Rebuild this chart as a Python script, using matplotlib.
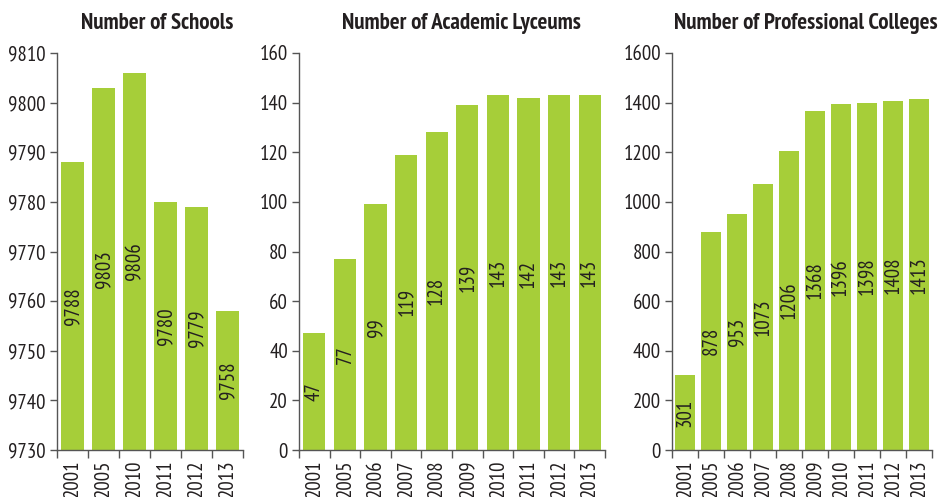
import numpy as np
import matplotlib
matplotlib.use('Agg')
import matplotlib.pyplot as plt

plt.rcParams['font.family'] = ['PT Sans Narrow', 'DejaVu Sans']

green = '#a6ce39'
ink = '#231f20'

school_years = ['2001', '2005', '2010', '2011', '2012', '2013']
schools = [9788, 9803, 9806, 9780, 9779, 9758]

lyceum_years = ['2001', '2005', '2006', '2007', '2008', '2009', '2010', '2011', '2012', '2013']
lyceums = [47, 77, 99, 119, 128, 139, 143, 142, 143, 143]

college_years = ['2001', '2005', '2006', '2007', '2008', '2009', '2010', '2011', '2012', '2013']
colleges = [301, 878, 953, 1073, 1206, 1368, 1396, 1398, 1408, 1413]

panels = [
    ('Number of Schools', school_years, schools, (9730, 9810, 10), 0.74, [57, 186], 0.537),
    ('Number of Academic Lyceums', lyceum_years, lyceums, (0, 160, 20), 0.72, [299, 306], 0.53),
    ('Number of Professional Colleges', college_years, colleges, (0, 1600, 200), 0.77, [672, 260], 0.515),
]

W, H = 942, 497
fig = plt.figure(figsize=(W / 100, H / 100), dpi=100)

for title, years, vals, (lo, hi, step), bw, (left, width), tx in panels:
    ax = fig.add_axes([left / W, 47 / H, width / W, 397 / H])
    x = np.arange(len(years))
    ax.bar(x, np.array(vals) - lo, bottom=lo, width=bw, color=green, zorder=2)
    for xi, v in zip(x, vals):
        ax.text(xi, lo + (v - lo) / 2, str(v), rotation=90, ha='center', va='center',
                fontsize=15, color=ink)
    ax.set_xlim(-0.5, len(years) - 0.5)
    ax.set_ylim(lo, hi)
    ax.set_yticks(np.arange(lo, hi + 1, step))
    ax.set_xticks(x)
    ax.set_xticklabels(years, rotation=90, fontsize=15, color=ink)
    ax.set_xticks(np.arange(-0.5, len(years)), minor=True)
    ax.tick_params(axis='x', which='major', length=0, pad=7)
    ax.tick_params(axis='x', which='minor', length=6, width=1, color='#555555', direction='out')
    ax.tick_params(axis='y', length=5, width=1, color='#555555', labelsize=15, labelcolor=ink, pad=3)
    for s in ['top', 'right']:
        ax.spines[s].set_visible(False)
    for s in ['left', 'bottom']:
        ax.spines[s].set_color('#555555')
        ax.spines[s].set_linewidth(1)
    ax.set_title(title, x=tx, fontsize=16.5, fontweight='bold', color=ink, pad=17)

fig.savefig('out.png', dpi=100)
